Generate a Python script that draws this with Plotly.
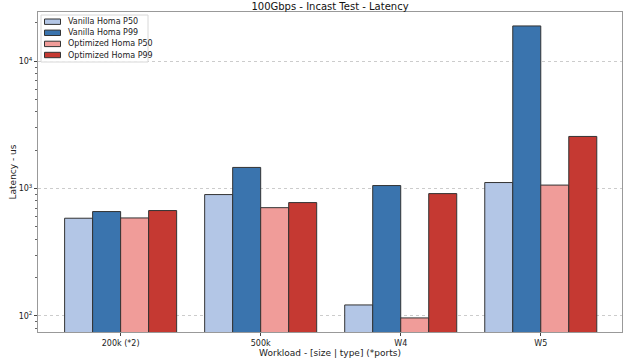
import plotly.graph_objects as go

# Workloads on the x axis
workloads = ["200k (*2)", "500k", "W4", "W5"]

# Latency in microseconds
vanilla_p50 = [585, 897, 122, 1115]
vanilla_p99 = [660, 1465, 1056, 18900]
optimized_p50 = [588, 708, 96.5, 1065]
optimized_p99 = [672, 776, 913, 2565]

series = [
    ("Vanilla Homa P50", vanilla_p50, "#b3c6e6"),
    ("Vanilla Homa P99", vanilla_p99, "#3a74ae"),
    ("Optimized Homa P50", optimized_p50, "#f09c99"),
    ("Optimized Homa P99", optimized_p99, "#c53932"),
]

W, H = 637, 360
ML, MR, MT, MB = 38, 15, 12, 28
PW, PH = W - ML - MR, H - MT - MB


def px_x(px):
    return (px - ML) / PW


def px_y(py):
    return (H - MB - py) / PH


fig = go.Figure()
for name, vals, color in series:
    fig.add_trace(go.Bar(
        x=workloads, y=vals, name=name,
        marker=dict(color=color, line=dict(color="#333333", width=1)),
    ))

font = "DejaVu Sans"
minor_vals = [m * 10 ** d for d in (1, 2, 3, 4) for m in range(2, 10)]

fig.update_layout(
    width=W, height=H,
    margin=dict(l=ML, r=MR, t=MT, b=MB, autoexpand=False),
    paper_bgcolor="white", plot_bgcolor="white",
    barmode="group", bargap=0.2, bargroupgap=0,
    font=dict(family=font, size=9, color="#222222"),
    title=dict(text="100Gbps - Incast Test - Latency", xref="paper", x=0.5, xanchor="center",
               yref="container", y=1 - 6 / H, yanchor="middle",
               font=dict(size=10, color="#111111")),
    showlegend=False,
)
fig.update_xaxes(
    range=[-0.59, 3.58], automargin=False,
    showline=True, linecolor="#999999", linewidth=1, mirror=True,
    ticks="outside", ticklen=3, tickcolor="#444444", showgrid=False,
    title=dict(text="Workload - [size | type] (*ports)", font=dict(size=9), standoff=1),
    tickfont=dict(size=8),
)
fig.update_yaxes(
    type="log", range=[1.874, 4.386], automargin=False,
    tickvals=[100, 1000, 10000],
    ticktext=["10<sup>2</sup>", "10<sup>3</sup>", "10<sup>4</sup>"],
    showline=True, linecolor="#999999", linewidth=1, mirror=True,
    ticks="outside", ticklen=3, tickcolor="#444444",
    showgrid=True, gridcolor="#cccccc", griddash="dot", gridwidth=1,
    minor=dict(tickmode="array", tickvals=minor_vals, ticks="outside", ticklen=2,
               tickcolor="#666666", showgrid=False),
    zeroline=False, tickfont=dict(size=8),
    title=dict(text="Latency - us", font=dict(size=9), standoff=0),
)

# Legend panel drawn in the upper-left corner of the plot
fig.add_shape(type="rect", xref="paper", yref="paper",
              x0=px_x(41), x1=px_x(148), y0=px_y(62), y1=px_y(15),
              line=dict(color="#d8d8d8", width=1), fillcolor="rgba(255,255,255,0.85)")
row_y = [21.7, 32.8, 43.9, 55.0]
for (name, _, color), cy in zip(series, row_y):
    fig.add_shape(type="rect", xref="paper", yref="paper",
                  x0=px_x(44.5), x1=px_x(60.5), y0=px_y(cy + 2.7), y1=px_y(cy - 2.7),
                  line=dict(color="#333333", width=1), fillcolor=color)
    fig.add_annotation(text=name, xref="paper", yref="paper",
                       x=px_x(65.5), y=px_y(cy), xanchor="left", yanchor="middle",
                       showarrow=False, font=dict(size=8, color="#222222"))

fig.write_html("out.html")
